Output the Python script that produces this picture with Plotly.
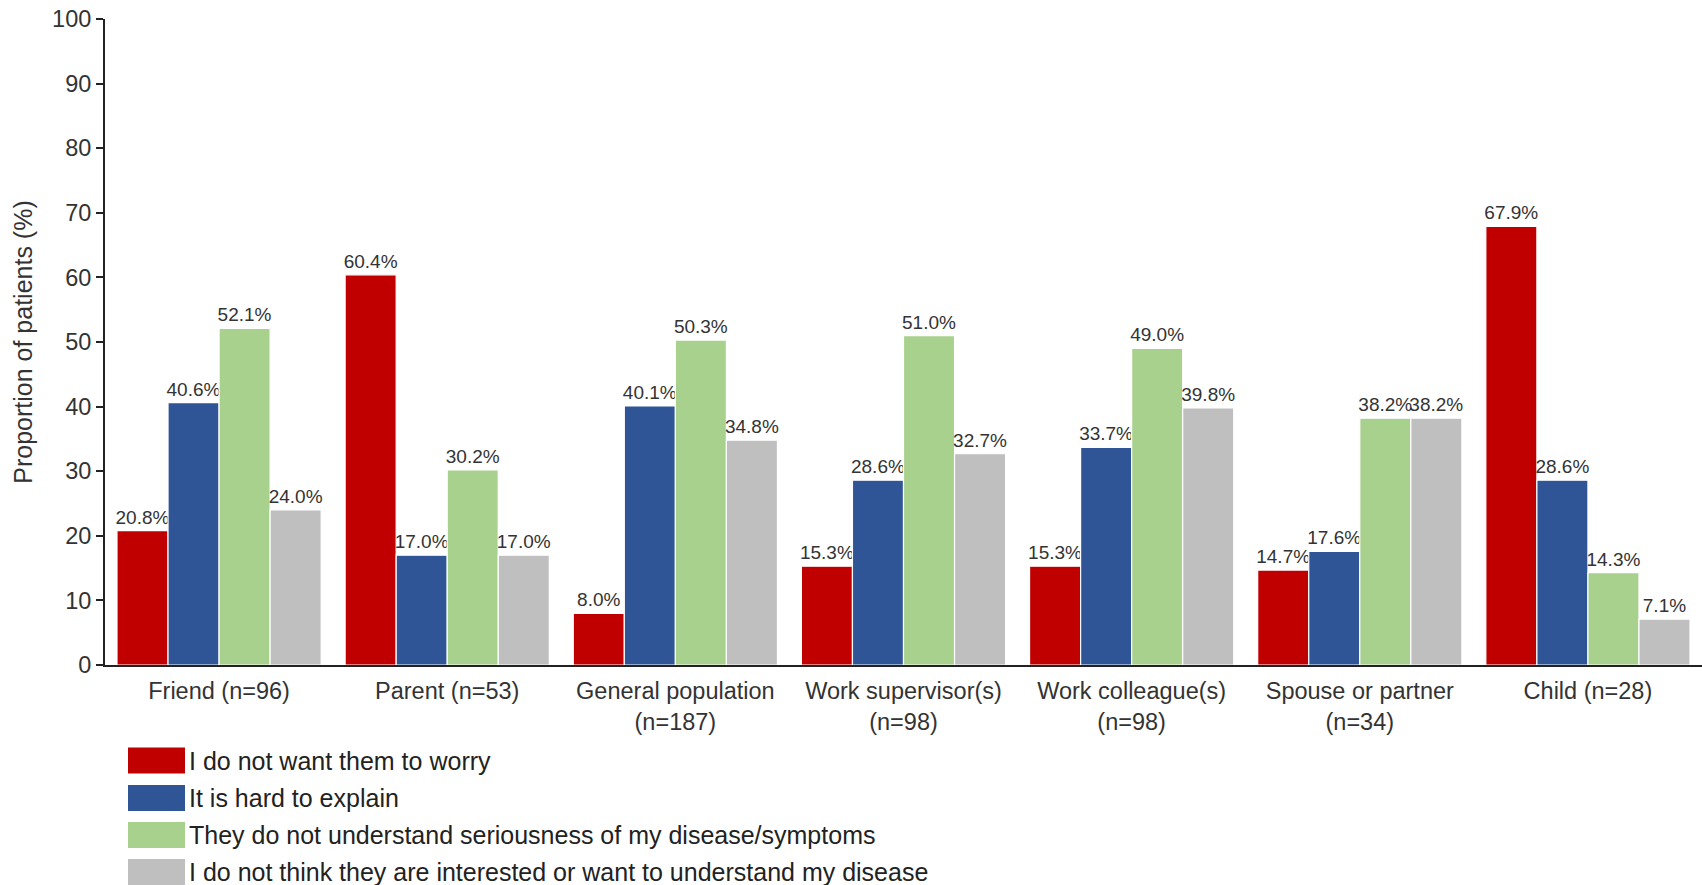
import plotly.graph_objects as go

# Categories (who the patient did not tell) and reasons, in percent of patients
categories = [
    "Friend (n=96)",
    "Parent (n=53)",
    "General population<br>(n=187)",
    "Work supervisor(s)<br>(n=98)",
    "Work colleague(s)<br>(n=98)",
    "Spouse or partner<br>(n=34)",
    "Child (n=28)",
]

series_names = [
    "I do not want them to worry",
    "It is hard to explain",
    "They do not understand seriousness of my disease/symptoms",
    "I do not think they are interested or want to understand my disease",
]

worry = [20.8, 60.4, 8.0, 15.3, 15.3, 14.7, 67.9]
hard_to_explain = [40.6, 17.0, 40.1, 28.6, 33.7, 17.6, 28.6]
not_understand = [52.1, 30.2, 50.3, 51.0, 49.0, 38.2, 14.3]
not_interested = [24.0, 17.0, 34.8, 32.7, 39.8, 38.2, 7.1]

series_values = [worry, hard_to_explain, not_understand, not_interested]
colors = ["#C00000", "#2F5597", "#A9D18E", "#BFBFBF"]

y_ticks = [0, 10, 20, 30, 40, 50, 60, 70, 80, 90, 100]

W, H = 1702, 885
M_L, M_R, M_T, M_B = 105, 0, 19, 220
PLOT_W = W - M_L - M_R
PLOT_H = H - M_T - M_B

FONT = "Liberation Sans, Arial, sans-serif"

fig = go.Figure()
for name, vals, col in zip(series_names, series_values, colors):
    fig.add_trace(go.Bar(
        x=categories,
        y=vals,
        name=name,
        marker=dict(color=col, line=dict(color="white", width=1.2)),
        texttemplate="%{y:.1f}%",
        textposition="outside",
        constraintext="none",
        cliponaxis=False,
        textfont=dict(family=FONT, size=19, color="#333333"),
        showlegend=False,
    ))

# Legend drawn as large swatches below the plot
def px_to_paper_x(px):
    return (px - M_L) / PLOT_W

def px_to_paper_y(py):
    return (H - M_B - py) / PLOT_H

row_centers = [760.5, 798, 835, 872]
shapes = []
annotations = []
for name, col, cy in zip(series_names, colors, row_centers):
    shapes.append(dict(
        type="rect", xref="paper", yref="paper",
        x0=px_to_paper_x(128), x1=px_to_paper_x(185),
        y0=px_to_paper_y(cy + 13), y1=px_to_paper_y(cy - 13),
        fillcolor=col, line=dict(width=0), layer="above",
    ))
    annotations.append(dict(
        xref="paper", yref="paper",
        x=px_to_paper_x(187), y=px_to_paper_y(cy),
        xanchor="left", yanchor="middle",
        text=name, showarrow=False,
        font=dict(family=FONT, size=25, color="#222222"),
    ))

fig.update_layout(
    width=W, height=H,
    margin=dict(l=M_L, r=M_R, t=M_T, b=M_B, pad=0),
    paper_bgcolor="white",
    plot_bgcolor="white",
    barmode="group",
    bargap=0.105,
    bargroupgap=0,
    font=dict(family=FONT, color="#333333"),
    shapes=shapes,
    annotations=annotations,
)

fig.update_yaxes(
    range=[0, 100],
    tickvals=y_ticks,
    ticks="outside", ticklen=7, tickwidth=1.5, tickcolor="#222222",
    showline=True, linecolor="#222222", linewidth=2,
    showgrid=False, zeroline=False,
    tickfont=dict(size=23.5, color="#333333"),
    title=dict(text="Proportion of patients (%)", font=dict(size=25, color="#333333"), standoff=12),
)

fig.update_xaxes(
    showline=True, linecolor="#222222", linewidth=2,
    ticks="", showgrid=False,
    ticklabelstandoff=4,
    tickfont=dict(size=23.5, color="#333333"),
)

fig.write_html("out.html")
